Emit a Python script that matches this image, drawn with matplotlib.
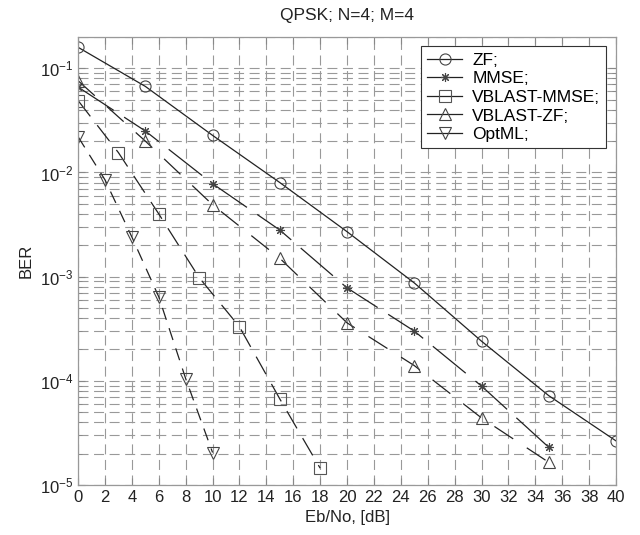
import matplotlib
matplotlib.use("Agg")
import matplotlib.pyplot as plt
from matplotlib.ticker import LogLocator, NullFormatter, MultipleLocator

plt.rcParams['font.family'] = ['Liberation Sans', 'DejaVu Sans']
plt.rcParams['mathtext.fontset'] = 'custom'
plt.rcParams['mathtext.rm'] = 'Liberation Sans'
plt.rcParams['mathtext.it'] = 'Liberation Sans:italic'
plt.rcParams['mathtext.bf'] = 'Liberation Sans:bold'

zf_x = [0, 5, 10, 15, 20, 25, 30, 35, 40]
zf_y = [0.159, 0.067, 0.0227, 0.0080, 0.0027, 8.7e-4, 2.4e-4, 7.2e-5, 2.65e-5]

mmse_x = [0, 5, 10, 15, 20, 25, 30, 35]
mmse_y = [0.066, 0.025, 0.0078, 0.0028, 7.8e-4, 3.0e-4, 8.9e-5, 2.3e-5]

vbm_x = [0, 3, 6, 9, 12, 15, 18]
vbm_y = [0.049, 0.0155, 0.0040, 9.8e-4, 3.3e-4, 6.7e-5, 1.45e-5]

vbz_x = [0, 5, 10, 15, 20, 25, 30, 35]
vbz_y = [0.076, 0.020, 0.0049, 0.0015, 3.6e-4, 1.4e-4, 4.4e-5, 1.65e-5]

ml_x = [0, 2, 4, 6, 8, 10]
ml_y = [0.022, 0.0085, 0.0024, 6.4e-4, 1.05e-4, 2.05e-5]

labels = ['ZF;', 'MMSE;', 'VBLAST-MMSE;', 'VBLAST-ZF;', 'OptML;']
title = 'QPSK; N=4; M=4'

fig = plt.figure(figsize=(6.4, 5.35), dpi=100)
ax = fig.add_axes([0.122, 0.0935, 0.8405, 0.8375])

lc = '#222222'
mk = dict(markerfacecolor='none', markeredgewidth=0.8)
ax.plot(zf_x, zf_y, color=lc, lw=0.9, marker='o', markersize=8, markeredgecolor='#444444',
        label=labels[0], **mk)
ax.plot(mmse_x, mmse_y, color=lc, lw=0.9, marker=(8, 2, 0), markersize=6.5, markeredgecolor='#444444',
        label=labels[1], dashes=(34, 10), **mk)
ax.plot(vbm_x, vbm_y, color=lc, lw=0.9, marker='s', markersize=8, markeredgecolor='#555555',
        label=labels[2], dashes=(16, 9), **mk)
ax.plot(vbz_x, vbz_y, color=lc, lw=0.9, marker='^', markersize=8, markeredgecolor='#444444',
        label=labels[3], dashes=(18, 13), **mk)
ax.plot(ml_x, ml_y, color=lc, lw=0.9, marker='v', markersize=8, markeredgecolor='#444444',
        label=labels[4], dashes=(10, 7), **mk)

ax.set_yscale('log')
ax.set_xlim(0, 40)
ax.set_ylim(1e-5, 0.2)
ax.xaxis.set_major_locator(MultipleLocator(2))
ax.yaxis.set_major_locator(LogLocator(base=10, numticks=10))
ax.yaxis.set_minor_locator(LogLocator(base=10, subs=range(2, 10), numticks=20))
ax.yaxis.set_minor_formatter(NullFormatter())

ax.grid(True, which='major', axis='both', color='#999999', lw=0.8, dashes=(9, 5))
ax.grid(True, which='minor', axis='y', color='#999999', lw=0.8, dashes=(9, 5))

ax.tick_params(which='both', direction='in', top=True, right=True, labelsize=12, colors='#222222')
ax.tick_params(which='major', length=5, color='#888888')
ax.tick_params(which='minor', length=3, color='#888888')
for s in ax.spines.values():
    s.set_color('#999999')
    s.set_linewidth(0.9)

ax.set_title(title, fontsize=12.5, pad=12, color='#222222')
ax.set_xlabel('Eb/No, [dB]', fontsize=12, color='#222222')
ax.set_ylabel('BER', fontsize=12, color='#222222')

leg = ax.legend(loc='upper right', fontsize=12.5, fancybox=False, framealpha=1,
                edgecolor='#333333', borderaxespad=0.55, handlelength=2.0,
                labelspacing=0.2, borderpad=0.35, handletextpad=0.6)
leg.get_frame().set_linewidth(0.8)
for ln in leg.get_lines():
    ln.set_linestyle('-')

fig.savefig('out.png', dpi=100)
